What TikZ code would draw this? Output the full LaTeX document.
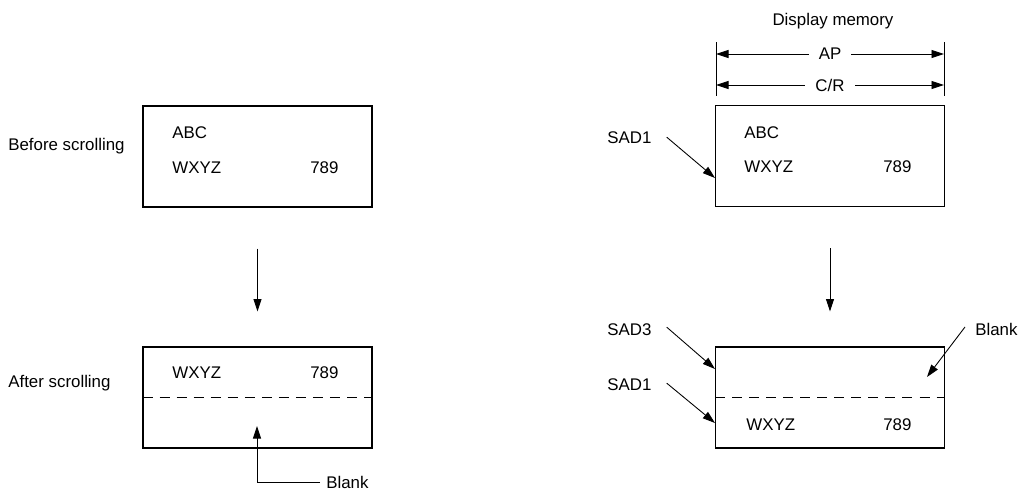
\documentclass[tikz,border=0pt]{standalone}
\usepackage{fontspec}
\setmainfont{Liberation Sans}
\usetikzlibrary{arrows.meta,positioning}

\begin{document}
\begin{tikzpicture}[x=0.02cm, y=-0.02cm, >={Triangle[length=2.5mm,width=1.6mm]},
    screen/.style={rectangle, draw, line width=0.6pt, minimum width=4.58cm, minimum height=2.02cm},
    txt/.style={font=\fontsize{9.6}{11}\selectfont, inner sep=0pt, anchor=base west},
    dimtxt/.style={font=\fontsize{9.6}{11}\selectfont, fill=white, inner xsep=0.2cm, inner ysep=0pt},
    arrow/.style={->, line width=0.5pt},
    sep/.style={line width=0.5pt, dash pattern=on 5.7pt off 4pt}]
    \useasboundingbox (0,0) rectangle (1018,491);

    % Before / after scrolling
    \node[screen] (before) at (257.5,156.5) {};
    \node[txt] (capBefore) at (8,150) {Before scrolling};
    \node[txt] (abcL) at (172,138) {ABC};
    \node[txt] (wxyzL1) at (172,173) {WXYZ};
    \node[txt] (numL1) at (310,173) {789};

    \node[screen] (after) at (257.5,397.5) {};
    \node[txt] (capAfter) at (8,387) {After scrolling};
    \node[txt] (wxyzL2) at (172,378) {WXYZ};
    \node[txt] (numL2) at (310,378) {789};
    \draw[sep] (after.west) -- (after.east);

    \draw[arrow] (before.south) [shorten <=0.82cm, shorten >=0.7cm] -- (after.north);

    \coordinate (blankTipL) at (257,426);
    \node[font=\fontsize{9.6}{11}\selectfont, anchor=west, inner sep=0.12cm] (blankL) at (320,482) {Blank};
    \draw[arrow] (blankL.west) -| (blankTipL);

    % Display memory
    \node[font=\fontsize{9.6}{11}\selectfont, inner sep=0pt] (dispmem) at (833,21) {Display memory};
    \coordinate (tickLtop) at (716,42);
    \coordinate (tickLbot) at (716,96);
    \coordinate (tickRtop) at (944,42);
    \coordinate (tickRbot) at (944,96);
    \draw[line width=0.5pt] (tickLtop) -- (tickLbot);
    \draw[line width=0.5pt] (tickRtop) -- (tickRbot);
    \coordinate (apL) at (716,54);
    \coordinate (apR) at (944,54);
    \coordinate (crL) at (716,85);
    \coordinate (crR) at (944,85);
    \draw[arrow, <->] (apL) -- node[dimtxt] {AP} (apR);
    \draw[arrow, <->] (crL) -- node[dimtxt] {C/R} (crR);

    \node[screen] (memBefore) at (830,156) {};
    \node[txt] (abcR) at (744,138) {ABC};
    \node[txt] (wxyzR1) at (744,172) {WXYZ};
    \node[txt] (numR1) at (883,172) {789};
    \node[txt] (sadA) at (607,143) {SAD1};
    \coordinate (sadAtip) at (715,178);
    \draw[arrow] ([shift={(15,0)}]sadA.east) -- (sadAtip);

    \node[screen] (memAfter) at (830,397.5) {};
    \draw[arrow] (memBefore.south) [shorten <=0.82cm, shorten >=0.7cm] -- (memAfter.north);
    \node[txt] (wxyzR2) at (746,430) {WXYZ};
    \node[txt] (numR2) at (883,430) {789};
    \draw[sep] (memAfter.west) -- (memAfter.east);
    \node[txt] (sadC) at (607,335) {SAD3};
    \coordinate (sadCtip) at (715,369);
    \draw[arrow] ([shift={(15,-2)}]sadC.east) -- (sadCtip);
    \node[txt] (sadB) at (607,390) {SAD1};
    \coordinate (sadBtip) at (715,423);
    \draw[arrow] ([shift={(15,-1)}]sadB.east) -- (sadBtip);
    \node[txt] (blankR) at (975,335) {Blank};
    \coordinate (blankTipR) at (927,377);
    \draw[arrow] ([shift={(-10,-2)}]blankR.west) -- (blankTipR);

\end{tikzpicture}
\end{document}
